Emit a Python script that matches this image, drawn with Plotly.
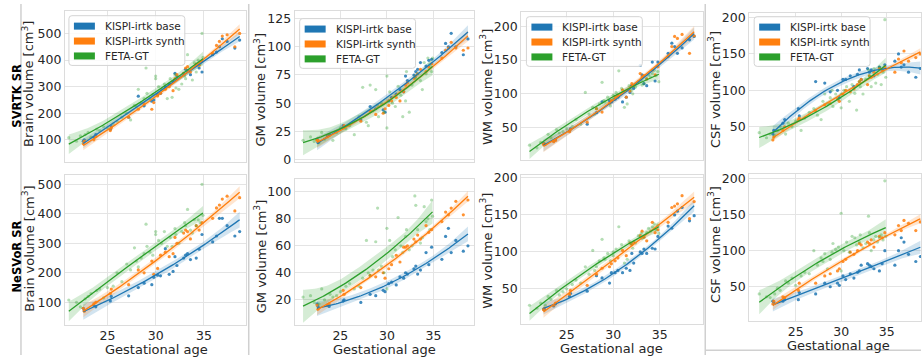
import numpy as np
import plotly.graph_objects as go

W, H = 922, 360

# ---------------- data ----------------
ga_kispi = [22.5, 22.6, 23.6, 23.8, 25.3, 25.4, 27.2, 28.2, 28.8, 29.6,
            29.8, 30.2, 30.5, 31.0, 31.4, 31.8, 32.0, 32.2, 32.9, 33.1,
            33.3, 33.6, 34.2, 34.5, 34.8, 35.9, 36.3, 36.6, 36.9, 37.4,
            38.2, 38.7]
ga_feta = [21.0, 21.8, 22.2, 22.7, 23.0, 23.3, 23.9, 24.2, 24.6, 25.0,
           25.6, 26.0, 26.5, 27.0, 27.4, 27.8, 28.0, 28.2, 28.5, 28.8,
           29.0, 29.1, 29.4, 29.7, 30.0, 30.0, 30.3, 30.6, 30.9, 31.2,
           31.5, 31.7, 32.0, 32.1, 32.4, 32.7, 33.0, 33.1, 33.3, 33.6,
           33.8, 34.0, 34.2, 34.4, 34.6, 34.8, 34.9]

# SVRTK SR
brain_svrtk_base = [95, 100, 110, 120, 140, 150, 185, 264, 228, 245,
                    250, 270, 275, 300, 310, 320, 350, 340, 350, 365,
                    360, 345, 380, 370, 355, 420, 430, 450, 480, 470,
                    445, 475]
brain_svrtk_synth = [85, 95, 100, 112, 135, 145, 185, 215, 235, 215,
                     240, 265, 275, 290, 300, 285, 330, 345, 350, 370,
                     375, 355, 385, 380, 395, 425, 455, 470, 490, 495,
                     450, 500]
brain_svrtk_feta = [108, 95, 115, 120, 128, 110, 140, 135, 150, 145,
                    160, 170, 185, 200, 175, 230, 225, 290, 240, 255,
                    370, 275, 255, 270, 330, 340, 300, 290, 310, 255,
                    330, 260, 345, 295, 290, 310, 340, 330, 420, 365,
                    325, 390, 355, 400, 385, 500, 410]

gm_svrtk_base = [18, 15, 21, 22, 30, 29, 35, 47, 45, 44,
                 42, 52, 55, 58, 62, 60, 74, 70, 75, 78,
                 80, 86, 83, 88, 89, 95, 103, 100, 112, 100,
                 93, 107]
gm_svrtk_synth = [17, 17, 20, 21, 28, 30, 34, 43, 40, 41,
                  45, 48, 52, 55, 52, 60, 66, 68, 72, 74,
                  76, 80, 78, 82, 85, 90, 97, 99, 104, 99,
                  97, 99]
gm_svrtk_feta = [17, 20, 16, 15, 24, 18, 22, 17, 24, 28,
                 27, 30, 22, 38, 64, 33, 30, 66, 43, 62,
                 48, 38, 50, 42, 74, 28, 60, 50, 47, 65,
                 57, 38, 52, 78, 42, 66, 74, 72, 76, 70,
                 62, 86, 76, 90, 84, 78, 90]

wm_svrtk_base = [27, 25, 30, 32, 45, 48, 55, 72, 88, 90,
                 88, 92, 95, 88, 95, 102, 112, 108, 142, 128,
                 115, 112, 147, 119, 147, 160, 175, 170, 160, 168,
                 180, 185]
wm_svrtk_synth = [25, 26, 29, 31, 44, 47, 58, 78, 73, 86,
                  90, 96, 98, 106, 95, 104, 115, 112, 130, 125,
                  127, 122, 135, 128, 140, 155, 170, 185, 182, 188,
                  160, 186]
wm_svrtk_feta = [24, 20, 28, 25, 40, 35, 47, 42, 44, 48,
                 52, 62, 55, 102, 70, 80, 70, 78, 85, 117,
                 90, 88, 95, 82, 92, 98, 102, 134, 108, 80,
                 85, 112, 105, 100, 110, 118, 120, 113, 115, 122,
                 128, 125, 130, 135, 127, 133, 118]

csf_svrtk_base = [40, 45, 55, 60, 75, 65, 112, 110, 98, 100,
                  90, 115, 115, 120, 105, 122, 128, 115, 130, 125,
                  128, 120, 132, 128, 135, 140, 150, 132, 135, 125,
                  118, 130]
csf_svrtk_synth = [32, 36, 45, 50, 60, 62, 72, 80, 82, 88,
                   85, 95, 100, 98, 102, 108, 112, 115, 108, 120,
                   118, 125, 130, 128, 132, 125, 143, 138, 154, 140,
                   145, 150]
csf_svrtk_feta = [42, 35, 40, 38, 45, 50, 40, 55, 50, 58,
                  45, 62, 70, 75, 66, 60, 85, 95, 82, 90,
                  100, 78, 95, 88, 95, 76, 100, 105, 85, 108,
                  96, 73, 112, 105, 95, 115, 128, 120, 105, 130,
                  110, 122, 132, 108, 125, 197, 118]

# NeSVoR SR
brain_nesvor_base = [80, 72, 90, 85, 105, 120, 122, 150, 165, 160,
                     185, 192, 190, 282, 195, 205, 255, 225, 250, 260,
                     265, 245, 250, 280, 330, 305, 325, 385, 385, 360,
                     325, 340]
brain_nesvor_synth = [80, 70, 95, 100, 130, 145, 160, 210, 200, 240,
                      195, 215, 260, 270, 255, 265, 320, 300, 335, 345,
                      340, 315, 360, 345, 370, 385, 420, 430, 450, 460,
                      410, 455]
brain_nesvor_feta = [108, 100, 85, 112, 120, 130, 140, 145, 115, 150,
                     155, 200, 170, 230, 210, 285, 240, 220, 250, 265,
                     365, 290, 270, 260, 330, 340, 310, 300, 340, 290,
                     320, 290, 350, 330, 300, 340, 370, 360, 415, 345,
                     335, 380, 360, 380, 370, 500, 395]

gm_nesvor_base = [17, 15, 16, 15, 19, 20, 18, 24, 23, 27,
                  26, 32, 33, 31, 37, 36, 40, 39, 43, 45,
                  39, 42, 55, 46, 59, 50, 67, 73, 55, 64,
                  56, 60]
gm_nesvor_synth = [16, 13, 16, 17, 27, 24, 29, 38, 37, 40,
                   36, 43, 46, 53, 48, 59, 59, 60, 65, 63,
                   68, 65, 75, 70, 72, 78, 85, 83, 88, 93,
                   83, 94]
gm_nesvor_feta = [22, 23, 18, 17, 28, 20, 24, 22, 23, 26,
                  30, 32, 28, 30, 36, 64, 40, 38, 42, 63,
                  88, 42, 45, 40, 73, 28, 64, 52, 57, 81,
                  60, 55, 67, 72, 57, 60, 97, 90, 72, 62,
                  66, 89, 78, 80, 72, 94, 82]

wm_nesvor_base = [23, 22, 27, 30, 40, 44, 47, 68, 65, 58,
                  72, 72, 75, 72, 78, 75, 98, 85, 100, 98,
                  104, 98, 105, 104, 121, 135, 132, 150, 155, 160,
                  142, 149]
wm_nesvor_synth = [22, 24, 28, 31, 43, 48, 55, 70, 78, 80,
                   84, 88, 92, 102, 95, 112, 110, 113, 122, 128,
                   120, 115, 140, 126, 130, 140, 160, 162, 165, 176,
                   145, 168]
wm_nesvor_feta = [28, 24, 31, 28, 40, 36, 48, 42, 46, 50,
                  56, 62, 58, 80, 70, 102, 75, 80, 88, 117,
                  92, 90, 98, 88, 95, 100, 104, 134, 110, 85,
                  90, 115, 110, 105, 112, 122, 125, 118, 120, 126,
                  132, 128, 134, 138, 130, 136, 125]

csf_nesvor_base = [30, 28, 30, 32, 32, 42, 40, 55, 50, 55,
                   52, 65, 60, 68, 62, 70, 72, 80, 82, 80,
                   78, 75, 72, 82, 100, 80, 100, 118, 112, 95,
                   85, 92]
csf_nesvor_synth = [26, 30, 36, 35, 45, 55, 55, 65, 68, 72,
                    75, 85, 88, 98, 95, 100, 110, 108, 112, 110,
                    115, 105, 120, 118, 125, 122, 135, 128, 142, 138,
                    128, 140]
csf_nesvor_feta = [40, 36, 35, 40, 48, 45, 58, 55, 62, 52,
                   65, 70, 68, 100, 80, 90, 85, 96, 75, 88,
                   98, 110, 102, 105, 152, 72, 100, 112, 98, 120,
                   118, 108, 112, 122, 104, 110, 148, 125, 100, 115,
                   120, 112, 118, 122, 115, 197, 120]

series_names = ["KISPI-irtk base", "KISPI-irtk synth", "FETA-GT"]
x_ticks = [25, 30, 35]

BLUE, ORANGE, GREEN = "#1f77b4", "#ff7f0e", "#2ca02c"
COLORS = [BLUE, ORANGE, GREEN]


def rgba(h, a):
    h = h.lstrip("#")
    r, g, b = int(h[0:2], 16), int(h[2:4], 16), int(h[4:6], 16)
    return f"rgba({r},{g},{b},{a})"


def quad_fit(x, y, n=80):
    x = np.asarray(x, float)
    y = np.asarray(y, float)
    X = np.vander(x, 3)
    beta, *_ = np.linalg.lstsq(X, y, rcond=None)
    resid = y - X @ beta
    s2 = resid @ resid / (len(x) - 3)
    cov = s2 * np.linalg.inv(X.T @ X)
    xg = np.linspace(x.min(), x.max(), n)
    Xg = np.vander(xg, 3)
    yg = Xg @ beta
    se = np.sqrt(np.einsum("ij,jk,ik->i", Xg, cov, Xg))
    t = 2.0
    return xg, yg, yg - t * se, yg + t * se


# panel definitions (pixel boxes are layout, not data)
panels = [
    dict(data=(brain_svrtk_base, brain_svrtk_synth, brain_svrtk_feta), lab="Brain volume",
         yr=[18, 585], yt=[100, 200, 300, 400, 500], xr=[20.6, 39.4],
         box=(65, 246.7, 7, 161.7), row=0, ylab=(28, 82)),
    dict(data=(gm_svrtk_base, gm_svrtk_synth, gm_svrtk_feta), lab="GM volume",
         yr=[-2, 132], yt=[0, 25, 50, 75, 100, 125], xr=[20.1, 39.4],
         box=(295, 475, 7, 161.7), row=0, ylab=(260, 88)),
    dict(data=(wm_svrtk_base, wm_svrtk_synth, wm_svrtk_feta), lab="WM volume",
         yr=[2, 221], yt=[50, 100, 150, 200], xr=[20.1, 39.6],
         box=(521.7, 703.3, 8.3, 160), row=0, ylab=(486.7, 85)),
    dict(data=(csf_svrtk_base, csf_svrtk_synth, csf_svrtk_feta), lab="CSF volume",
         yr=[4.5, 206], yt=[50, 100, 150, 200], xr=[19.9, 38.77],
         box=(750, 922, 9.3, 160), row=0, ylab=(715, 88)),
    dict(data=(brain_nesvor_base, brain_nesvor_synth, brain_nesvor_feta), lab="Brain volume",
         yr=[24, 533], yt=[100, 200, 300, 400, 500], xr=[20.6, 39.4],
         box=(65, 246.7, 175, 329), row=1, ylab=(28, 251), xlab=(156.7, 354)),
    dict(data=(gm_nesvor_base, gm_nesvor_synth, gm_nesvor_feta), lab="GM volume",
         yr=[1.2, 109.7], yt=[20, 40, 60, 80, 100], xr=[20.1, 39.4],
         box=(295, 475, 179.3, 329.3), row=1, ylab=(260, 259), xlab=(385, 354)),
    dict(data=(wm_nesvor_base, wm_nesvor_synth, wm_nesvor_feta), lab="WM volume",
         yr=[2.6, 204.4], yt=[50, 100, 150, 200], xr=[20.1, 39.6],
         box=(521.7, 703.3, 175, 328.3), row=1, ylab=(486.7, 253), xlab=(611.7, 353)),
    dict(data=(csf_nesvor_base, csf_nesvor_synth, csf_nesvor_feta), lab="CSF volume",
         yr=[2.6, 207], yt=[50, 100, 150, 200], xr=[19.9, 38.77],
         box=(750, 922, 174, 325), row=1, ylab=(715, 247), xlab=(839, 350)),
]

# legend boxes (pixel layout): left, top
legend_pos = [(69, 12), (300, 15), (527, 13), (755, 13)]
LEG_W, LEG_H = 116, 51

FONT = "DejaVu Sans"
TXT = "#262626"
GRID = "#e4e4e4"
SPINE = "#dcdcdc"

fig = go.Figure()
layout = dict(width=W, height=H, margin=dict(l=0, r=0, t=0, b=0),
              paper_bgcolor="white", plot_bgcolor="white", showlegend=False,
              font=dict(family=FONT, color=TXT, size=13))
annotations = []
shapes = []


def px(x):
    return x / W


def py(y):
    return (H - y) / H


for i, p in enumerate(panels):
    k = i + 1
    xa = "x" if k == 1 else f"x{k}"
    ya = "y" if k == 1 else f"y{k}"
    x0, x1, y0, y1 = p["box"]
    layout[f"xaxis{'' if k == 1 else k}"] = dict(
        domain=[px(x0), min(px(x1), 1.0)], range=p["xr"], anchor=ya,
        tickvals=x_ticks, showgrid=True, gridcolor=GRID, gridwidth=1,
        zeroline=False, showline=True, linecolor=SPINE, linewidth=1, mirror=True,
        ticks="", showticklabels=(p["row"] == 1), ticklabelstandoff=-1,
        tickfont=dict(family=FONT, size=12.5, color=TXT))
    layout[f"yaxis{'' if k == 1 else k}"] = dict(
        domain=[py(y1), py(y0)], range=p["yr"], anchor=xa,
        tickvals=p["yt"], showgrid=True, gridcolor=GRID, gridwidth=1,
        zeroline=False, showline=True, linecolor=SPINE, linewidth=1, mirror=True,
        ticks="", tickfont=dict(family=FONT, size=12.5, color=TXT))

    groups = [(ga_kispi, p["data"][0]), (ga_kispi, p["data"][1]), (ga_feta, p["data"][2])]
    fits = [quad_fit(gx, gy) for gx, gy in groups]
    # confidence bands
    for g, (xg, yg, lo, hi) in enumerate(fits):
        fig.add_trace(go.Scatter(
            x=np.concatenate([xg, xg[::-1]]), y=np.concatenate([lo, hi[::-1]]),
            fill="toself", fillcolor=rgba(COLORS[g], 0.2), line=dict(width=0),
            mode="lines", hoverinfo="skip", name=series_names[g] + " CI",
            xaxis=xa, yaxis=ya))
    # points
    for g, (gx, gy) in enumerate(groups):
        op = 0.35 if g == 2 else 0.85
        fig.add_trace(go.Scatter(
            x=gx, y=gy, mode="markers", name=series_names[g],
            marker=dict(size=3.2, color=COLORS[g], opacity=op, line=dict(width=0)),
            xaxis=xa, yaxis=ya))
    # fitted lines
    for g, (xg, yg, lo, hi) in enumerate(fits):
        fig.add_trace(go.Scatter(
            x=xg, y=yg, mode="lines", line=dict(color=COLORS[g], width=1.3),
            name=series_names[g] + " fit", xaxis=xa, yaxis=ya))

    # legend (top row only), matplotlib-style framed box with colour patches
    if p["row"] == 0:
        lx, ly = legend_pos[i]
        r = 3
        xl, xr_, yt, yb = lx, lx + LEG_W, ly, ly + LEG_H
        path = (f"M {px(xl + r)},{py(yt)} L {px(xr_ - r)},{py(yt)} "
                f"Q {px(xr_)},{py(yt)} {px(xr_)},{py(yt + r)} "
                f"L {px(xr_)},{py(yb - r)} Q {px(xr_)},{py(yb)} {px(xr_ - r)},{py(yb)} "
                f"L {px(xl + r)},{py(yb)} Q {px(xl)},{py(yb)} {px(xl)},{py(yb - r)} "
                f"L {px(xl)},{py(yt + r)} Q {px(xl)},{py(yt)} {px(xl + r)},{py(yt)} Z")
        shapes.append(dict(type="path", path=path, xref="paper", yref="paper",
                           fillcolor="rgba(255,255,255,0.85)",
                           line=dict(color="#d4d4d4", width=1), layer="above"))
        for g in range(3):
            cy = ly + 10.7 + g * 15.3
            shapes.append(dict(type="rect", xref="paper", yref="paper",
                               x0=px(lx + 5), x1=px(lx + 26), y0=py(cy + 3.6), y1=py(cy - 3.6),
                               fillcolor=COLORS[g], line=dict(width=0), layer="above"))
            annotations.append(dict(
                text=series_names[g], x=px(lx + 34), y=py(cy), xref="paper", yref="paper",
                showarrow=False, xanchor="left", yanchor="middle",
                font=dict(family=FONT, size=10.5, color=TXT)))

    # y label
    lx, ly = p["ylab"]
    annotations.append(dict(
        text=p["lab"] + " [cm<sup>3</sup>]", x=px(lx), y=py(ly),
        xref="paper", yref="paper", showarrow=False, textangle=-90,
        xanchor="center", yanchor="middle",
        font=dict(family=FONT, size=13, color=TXT)))
    if "xlab" in p:
        lx, ly = p["xlab"]
        annotations.append(dict(
            text="Gestational age", x=px(lx), y=py(ly),
            xref="paper", yref="paper", showarrow=False,
            xanchor="center", yanchor="middle",
            font=dict(family=FONT, size=13, color=TXT)))

# row labels
annotations.append(dict(text="<b>SVRTK SR</b>", x=px(17), y=py(94), xref="paper",
                        yref="paper", showarrow=False, textangle=-90,
                        xanchor="center", yanchor="middle",
                        font=dict(family=FONT, size=11.5, color="black")))
annotations.append(dict(text="<b>NeSVoR SR</b>", x=px(17), y=py(259), xref="paper",
                        yref="paper", showarrow=False, textangle=-90,
                        xanchor="center", yanchor="middle",
                        font=dict(family=FONT, size=11.5, color="black")))

# panel separators of the composite figure
for sx in (21, 249, 706):
    shapes.append(dict(type="line", xref="paper", yref="paper",
                       x0=px(sx), x1=px(sx), y0=0, y1=1,
                       line=dict(color="#d0d0d0", width=1.5)))
shapes.append(dict(type="line", xref="paper", yref="paper",
                   x0=px(706), x1=1, y0=py(355), y1=py(355),
                   line=dict(color="#d0d0d0", width=1.5)))

layout["annotations"] = annotations
layout["shapes"] = shapes
fig.update_layout(**layout)
fig.write_html("out.html")
